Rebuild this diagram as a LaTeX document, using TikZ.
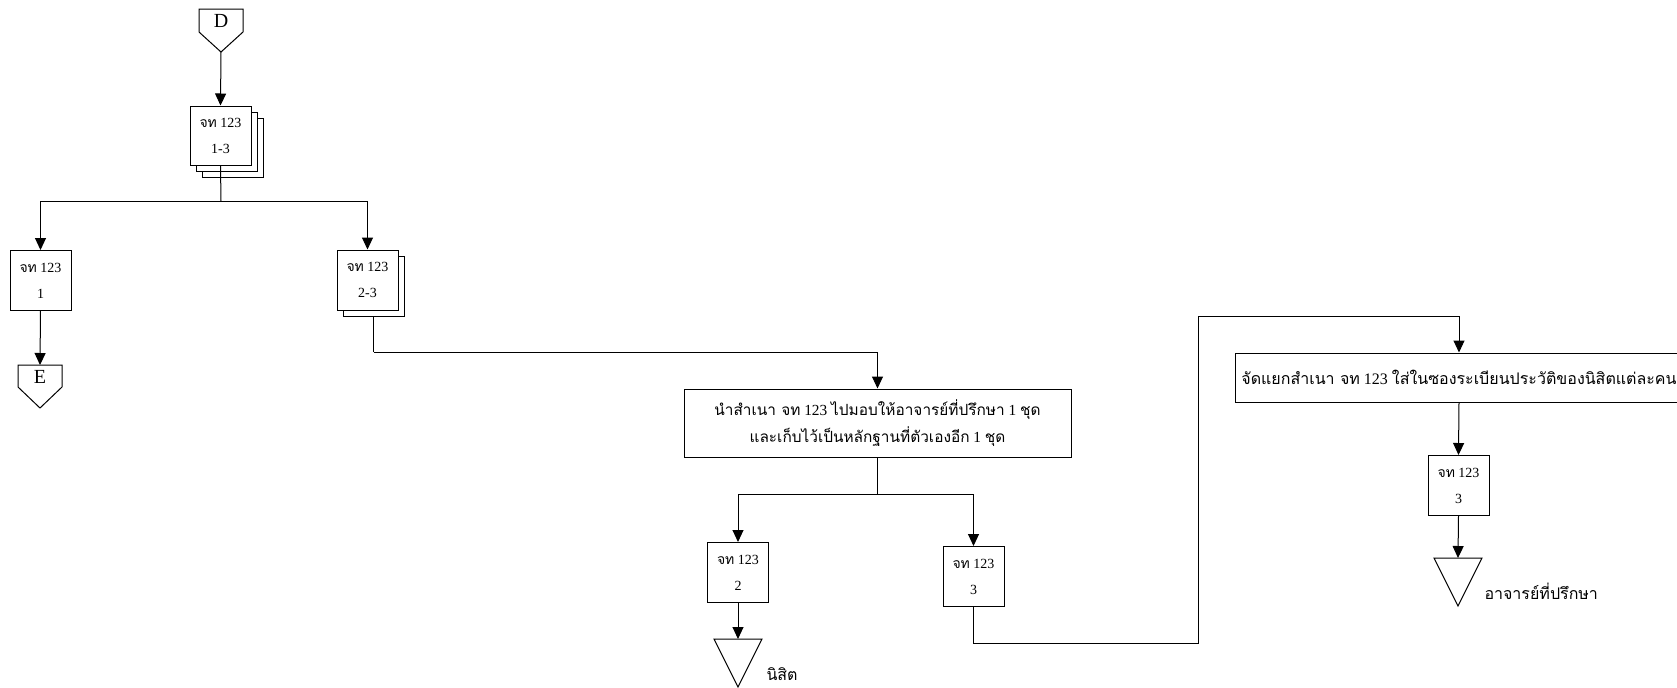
\documentclass[tikz,border=0pt]{standalone}
\usepackage{fontspec}
\setmainfont{Liberation Serif}
\newfontfamily\thaifont[Script=Thai]{Loma}
\newcommand\tf[1]{{\thaifont #1}}
\usetikzlibrary{arrows.meta}
\begin{document}
\begin{tikzpicture}[x=0.5pt,y=-0.5pt,
  line width=0.5pt,
  doc/.style={draw, fill=white, minimum width=30.5pt, minimum height=30pt, inner sep=0pt, align=center, font=\fontsize{7}{13}\selectfont},
  proc/.style={draw, fill=white, inner sep=0pt, align=center, font=\fontsize{8}{13.5}\selectfont},
  arr/.style={-{Triangle[length=6pt,width=5.5pt]}},
  lbl/.style={font=\fontsize{8}{10}\selectfont, anchor=west, inner sep=0pt},
  conn/.style={font=\fontsize{10}{12}\selectfont, inner sep=0pt}
]
\useasboundingbox (0,0) rectangle (1677,687);

% D connector
\node[conn] (D) at (221,21) {D};
\draw (199,9) -- (243,9) -- (243,32) -- (221,52) -- (199,32) -- cycle;
\coordinate (Dp) at (221,52);

% stacked 1-3
\node[doc, minimum height=29.5pt] (b13c) at (232.5,147.5) {};
\node[doc, minimum height=29.5pt] (b13b) at (226.5,141.5) {};
\node[doc, minimum height=29.5pt] (b13) at (220.5,135.5) {\tf{จท} 123\\1-3};
\draw[arr] (Dp) -- (b13.north);

\coordinate (j1) at (221,201);
\draw (b13.south) -- (j1);

% box 1
\node[doc] (b1) at (40.5,280.5) {\tf{จท} 123\\1};
\draw[arr] (j1) -| (b1.north);

% E connector
\node[conn] (E) at (40,377) {E};
\draw (18,365) -- (62,365) -- (62,387) -- (40,408) -- (18,387) -- cycle;
\coordinate (Et) at (40,365);
\draw[arr] (b1.south) -- (Et);

% stacked 2-3
\node[doc] (b23b) at (373.5,286) {};
\node[doc] (b23) at (367.5,280) {\tf{จท} 123\\2-3};
\draw[arr] (j1) -| (b23.north);

% middle process
\node[proc, font=\fontsize{7.7}{13.5}\selectfont, minimum width=193.5pt, minimum height=34pt] (p1) at (877.5,423)
  {\tf{นำสำเนา จท} 123 \tf{ไปมอบให้อาจารย์ที่ปรึกษา} 1 \tf{ชุด}\\\tf{และเก็บไว้เป็นหลักฐานที่ตัวเองอีก} 1 \tf{ชุด}};
\coordinate (j2) at (373.5,352);
\draw (b23b.south) -- (j2);
\draw[arr] (j2) -| (p1.north);

\coordinate (j3) at (877.5,494);
\draw (p1.south) -- (j3);

% box 2
\node[doc] (b2) at (738,572.5) {\tf{จท} 123\\2};
\draw[arr] (j3) -| (b2.north);

% box 3
\node[doc] (b3) at (973.5,576.5) {\tf{จท} 123\\3};
\draw[arr] (j3) -| (b3.north);

% triangle nisit
\coordinate (t1) at (738,639);
\draw (714,639) -- (762,639) -- (738,687) -- cycle;
\draw[arr] (b2.south) -- (t1);
\node[lbl] (l1) at (766,674) {\tf{นิสิต}};

% right process
\node[proc, minimum width=224pt, minimum height=24.5pt] (p2) at (1459,377.5)
  {\tf{จัดแยกสำเนา จท} 123 \tf{ใส่ในซองระเบียนประวัติของนิสิตแต่ละคน}};
\coordinate (k1) at (973.5,643);
\coordinate (k2) at (1198,643);
\coordinate (k3) at (1198,316);
\draw[arr] (b3.south) -- (k1) -- (k2) -- (k3) -| (p2.north);

% box 3 right
\node[doc] (b3r) at (1458.5,485.5) {\tf{จท} 123\\3};
\draw[arr] (p2.south) -- (b3r.north);

% triangle advisor
\coordinate (t2) at (1458,558);
\draw (1434,558) -- (1482,558) -- (1458,606) -- cycle;
\draw[arr] (b3r.south) -- (t2);
\node[lbl] (l2) at (1484,591) {\tf{อาจารย์ที่ปรึกษา}};
\end{tikzpicture}
\end{document}
